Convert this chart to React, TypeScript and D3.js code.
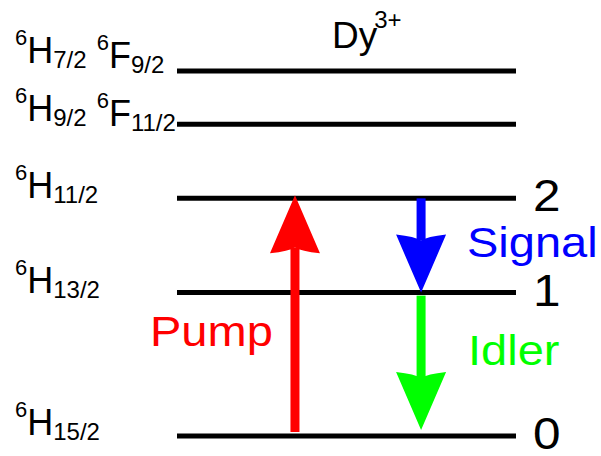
import React from 'react';
import * as d3 from 'd3';

// Dy3+ manifolds, approx. energies in cm^-1 (ground state first)
const levelEnergies = [0, 3575, 5925, 7775, 9100];
const levelTerms: string[][][] = [
  [['H', '15/2']],
  [['H', '13/2']],
  [['H', '11/2']],
  [['H', '9/2'], ['F', '11/2']],
  [['H', '7/2'], ['F', '9/2']],
];
const levelNumbers = ['0', '1', '2'];

// transitions between numbered levels
const transitionNames = ['Pump', 'Signal', 'Idler'];
const transitionFrom = [0, 2, 1];
const transitionTo = [2, 1, 0];

const colors: Record<string, string> = {
  Pump: '#ff0000',
  Signal: '#0000ff',
  Idler: '#00ff00',
};

const font = '"Liberation Sans", Arial, Helvetica, sans-serif';

export default function App() {
  const width = 601;
  const height = 456;

  const y = d3.scaleLinear().domain([0, 9100]).range([436, 71]);
  const x = d3.scaleLinear().domain([0, 1]).range([177, 516]);

  // arrow columns and end gaps (layout only)
  const arrowCol: Record<string, number> = { Pump: 0.348, Signal: 0.72, Idler: 0.72 };
  const startPad: Record<string, number> = { Pump: -4, Signal: 0, Idler: 3 };
  const tipPad: Record<string, number> = { Pump: -3, Signal: 0, Idler: -6 };
  const labelPos: Record<string, [number, number]> = {
    Pump: [150, 346],
    Signal: [467, 257],
    Idler: [468, 365],
  };
  const labelNudge = [-1, 0, 0, -3, -8];

  const headLen = 58;
  const headHalf = 25;
  const notch = 6;
  const shaft = 9;

  const arrow = (name: string, i: number) => {
    const from = transitionFrom[i];
    const to = transitionTo[i];
    const cx = x(arrowCol[name]);
    const y0 = y(levelEnergies[from]) + startPad[name];
    const yTip = y(levelEnergies[to]) + tipPad[name];
    const s = yTip > y0 ? 1 : -1;
    const back = yTip - s * headLen;
    const inner = back + s * notch;
    const head = d3.path();
    head.moveTo(cx, yTip);
    head.lineTo(cx - headHalf, back);
    head.quadraticCurveTo(cx - 6, back + s * 2, cx, inner);
    head.quadraticCurveTo(cx + 6, back + s * 2, cx + headHalf, back);
    head.closePath();
    return (
      <g key={name} fill={colors[name]}>
        <rect x={cx - shaft / 2} y={Math.min(y0, inner)} width={shaft} height={Math.abs(inner - y0)} />
        <path d={head.toString()} />
      </g>
    );
  };

  return (
    <svg width={width} height={height} style={{ position: 'absolute', left: 0, top: 0 }} fontFamily={font}>
      <rect width={width} height={height} fill="#fff" />

      {levelEnergies.map((e, i) => (
        <line key={`l${i}`} x1={x(0)} x2={x(1)} y1={y(e)} y2={y(e)} stroke="#000" strokeWidth={5} />
      ))}

      {levelTerms.map((terms, i) => (
        <text key={`t${i}`} x={15} y={y(levelEnergies[i]) + labelNudge[i]} fill="#000">
          {terms.map(([L, J], k) => (
            <React.Fragment key={k}>
              {k > 0 && <tspan fontSize={36}> </tspan>}
              <tspan fontSize={22} dy={-18}>6</tspan>
              <tspan fontSize={36} dy={18}>{L}</tspan>
              <tspan fontSize={24} dy={5}>{J}</tspan>
              <tspan fontSize={24} dy={-5}>{''}</tspan>
            </React.Fragment>
          ))}
        </text>
      ))}

      {levelNumbers.map((n, i) => (
        <text key={`n${i}`} transform={`translate(533,${y(levelEnergies[i]) + 13}) scale(1.1,1)`} fontSize={45} fill="#000">
          {n}
        </text>
      ))}

      <text x={332} y={48} fontSize={37} fill="#000">
        Dy<tspan fontSize={24} dx={-3} dy={-20}>3+</tspan>
      </text>

      {transitionNames.map((name, i) => arrow(name, i))}

      {transitionNames.map((name) => (
        <text
          key={`lab${name}`}
          transform={`translate(${labelPos[name][0]},${labelPos[name][1]}) scale(1.12,1)`}
          fontSize={42}
          fill={colors[name]}
        >
          {name}
        </text>
      ))}
    </svg>
  );
}
